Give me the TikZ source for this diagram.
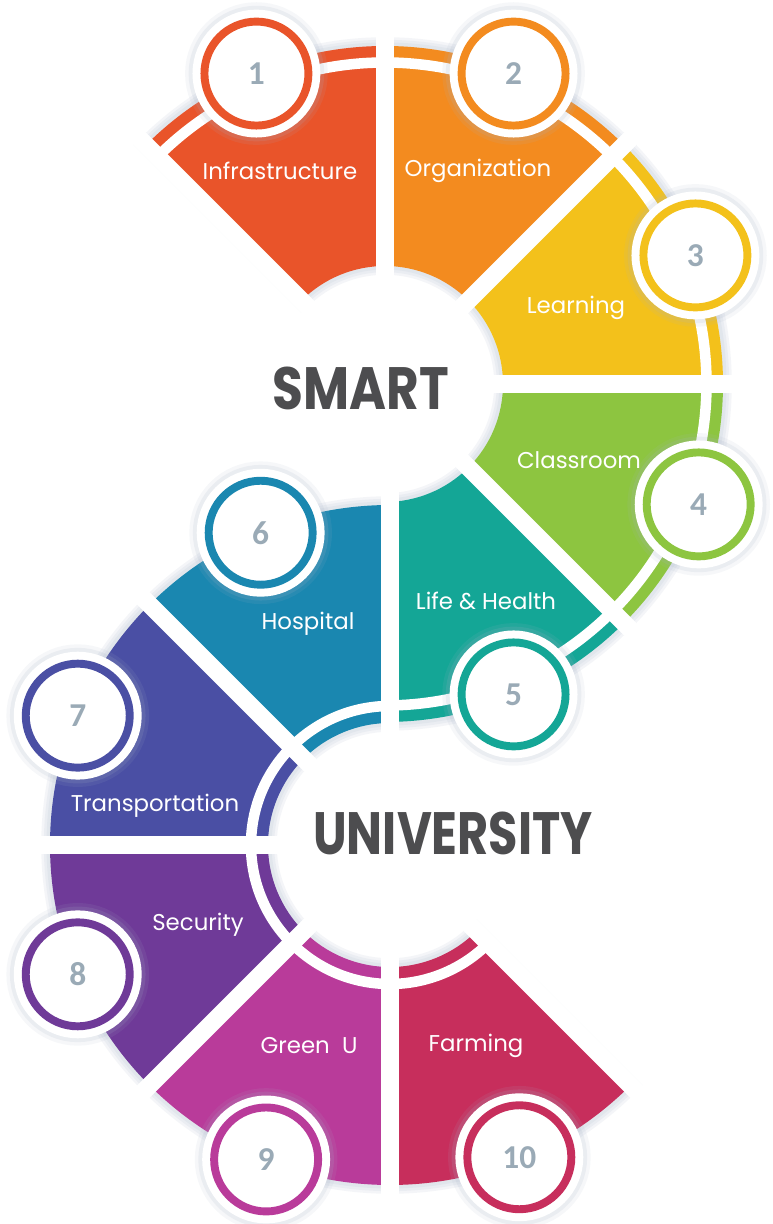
\documentclass[tikz,border=0pt]{standalone}
\usepackage{fontspec}
\setmainfont{Poppins}
\newfontfamily\numfont{Carlito}
\usepackage{xcolor}

\definecolor{cInfra}{HTML}{E9542A}
\definecolor{cOrg}{HTML}{F38B1F}
\definecolor{cLearn}{HTML}{F3C11B}
\definecolor{cClass}{HTML}{8DC540}
\definecolor{cLife}{HTML}{14A696}
\definecolor{cHosp}{HTML}{1A87B0}
\definecolor{cTrans}{HTML}{4A4FA4}
\definecolor{cSec}{HTML}{6F3A98}
\definecolor{cGreen}{HTML}{B93B9A}
\definecolor{cFarm}{HTML}{C72E5C}
\definecolor{titlegray}{HTML}{4D4D4F}
\definecolor{numgray}{HTML}{9AAAB6}
\definecolor{haze}{HTML}{A8B4C8}

\begin{document}
\begin{tikzpicture}[
    x=0.02cm, y=0.02cm,
    seglabel/.style={text=white, font=\fontsize{13}{15}\selectfont},
    title/.style={text=titlegray, font=\fontsize{34}{40}\selectfont\bfseries},
    numdisc/.style={circle, fill=white, line width=4.5pt, minimum size=2.08cm,
                    inner sep=0pt, text=numgray,
                    font=\numfont\bfseries\fontsize{19}{22}\selectfont,
                    preaction={draw=haze, line width=22pt, opacity=0.10},
                    preaction={draw=haze, line width=18pt, opacity=0.15},
                    preaction={draw=white, line width=13.6pt}},
    gapline/.style={white, line width=10pt},
    bandgap/.style={white, line width=6pt}
  ]

  %% ── page ───────────────────────────────────────────────────────────
  \fill[white] (0,0) rectangle (773,1224);
  \useasboundingbox (0,0) rectangle (773,1224);

  %% ── SMART ring (centre T, band outside) ────────────────────────────
  \coordinate (T) at (385,840);
  \begin{scope}[shift={(T)}]
    \foreach \w in {10,7,4}
      \draw[haze, opacity=0.12, line width=\w pt]
        (135:118) arc[start angle=135, end angle=-90, radius=118]
        -- (-90:338) arc[start angle=-90, end angle=135, radius=338] -- cycle;
    \foreach \a/\col in {135/cInfra, 90/cOrg, 45/cLearn, 0/cClass, -45/cLife}
      \fill[\col] (\a:118) arc[start angle=\a, delta angle=-45, radius=118]
        -- (\a-45:338) arc[start angle=\a-45, delta angle=45, radius=338] -- cycle;
    \draw[bandgap] (135:321.5) arc[start angle=135, end angle=-90, radius=321.5];
    \foreach \a in {135,90,...,-90}
      \draw[gapline] (0,0) -- (\a:360);
  \end{scope}

  %% ── UNIVERSITY ring (centre B, band inside) ────────────────────────
  \coordinate (B) at (390,379);
  \begin{scope}[shift={(B)}]
    \foreach \w in {10,7,4}
      \draw[haze, opacity=0.12, line width=\w pt]
        (90:122) arc[start angle=90, end angle=315, radius=122]
        -- (315:340) arc[start angle=315, end angle=90, radius=340] -- cycle;
    \foreach \a/\col in {90/cHosp, 135/cTrans, 180/cSec, 225/cGreen, 270/cFarm}
      \fill[\col] (\a:122) arc[start angle=\a, delta angle=45, radius=122]
        -- (\a+45:340) arc[start angle=\a+45, delta angle=-45, radius=340] -- cycle;
    \draw[bandgap] (90:139) arc[start angle=90, end angle=315, radius=139];
    \foreach \a in {90,135,...,315}
      \draw[gapline] (0,0) -- (\a:360);
  \end{scope}

  %% ── number discs ───────────────────────────────────────────────────
  \begin{scope}[shift={(T)}]
    \foreach \i/\m/\col in {1/112.5/cInfra, 2/67.5/cOrg, 3/22.5/cLearn,
                            4/-21/cClass, 5/-67.5/cLife}
      \node[numdisc, draw=\col] (num\i) at (\m:336) {\i};
  \end{scope}
  \begin{scope}[shift={(B)}]
    \foreach \i/\m/\col in {6/112.5/cHosp, 7/157.5/cTrans, 8/202.5/cSec,
                            9/248.5/cGreen, 10/292.5/cFarm}
      \node[numdisc, draw=\col] (num\i) at (\m:338) {\i};
  \end{scope}

  %% ── segment labels ─────────────────────────────────────────────────
  \node[seglabel] (lInfra) at (280,1053) {Infrastructure};
  \node[seglabel] (lOrg)   at (478,1053) {Organization};
  \node[seglabel] (lLearn) at (576,916)  {Learning};
  \node[seglabel] (lClass) at (579,764)  {Classroom};
  \node[seglabel] (lLife)  at (486,623)  {Life \& Health};
  \node[seglabel] (lHosp)  at (308,600)  {Hospital};
  \node[seglabel] (lTrans) at (155,418)  {Transportation};
  \node[seglabel] (lSec)   at (198,299)  {Security};
  \node[seglabel] (lGreen) at (309,178)  {Green~~U};
  \node[seglabel] (lFarm)  at (476,178)  {Farming};

  %% ── titles ─────────────────────────────────────────────────────────
  \node[title] (smart) at (361,836) {\scalebox{0.84}[1]{SMART}};
  \node[title] (univ)  at (453,391) {\scalebox{0.8}[1]{UNIVERSITY}};

\end{tikzpicture}
\end{document}
